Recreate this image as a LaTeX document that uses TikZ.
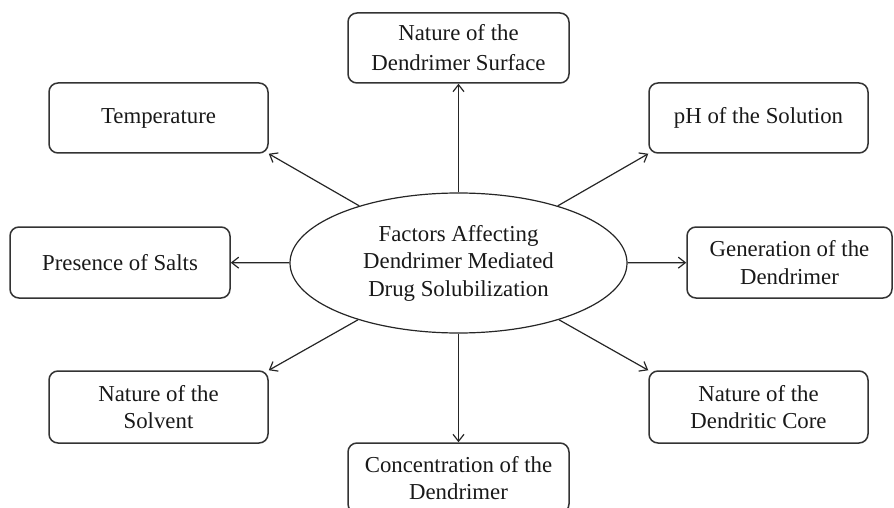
\documentclass[tikz,border=0pt]{standalone}
\usepackage{fontspec}
\setmainfont{Liberation Serif}
\usetikzlibrary{shapes.geometric,arrows.meta}

\tikzset{
  factor/.style={draw=black!80, line width=1.5pt, rounded corners=9pt, align=center,
    minimum width=220pt, minimum height=70pt, inner sep=2pt},
  hub/.style={draw=black!85, line width=1.2pt, ellipse, align=center,
    minimum width=337pt, minimum height=140pt, inner sep=0pt},
  link/.style={draw=black!85, line width=1.2pt, -{Straight Barb[length=7pt,width=11pt,line width=1.2pt]}}
}

\begin{document}
\begin{tikzpicture}[x=1pt,y=1pt,yscale=-1,font=\fontsize{22.8}{27.5}\selectfont,text=black!90]
\clip (0,0) rectangle (894,508);
\useasboundingbox (0,0) rectangle (894,508);

% centre
\node [hub] (hub) at (458.5,263) {Factors Affecting\\Dendrimer Mediated\\Drug Solubilization};

% factors
\node [factor, minimum width=221pt, font=\fontsize{22.8}{30}\selectfont] (surface) at (458.5,48) {Nature of the\\Dendrimer Surface};
\node [factor, minimum width=219pt] (temp) at (158.5,118) {Temperature};
\node [factor, minimum width=219pt] (ph) at (758.5,118) {pH of the Solution};
\node [factor, minimum width=220pt, minimum height=71pt] (salts) at (120,262.5) {Presence of Salts};
\node [factor, minimum width=205pt, minimum height=71pt] (gen) at (789.5,262.5) {Generation of the\\Dendrimer};
\node [factor, minimum width=219pt, minimum height=72pt] (solvent) at (158.5,407) {Nature of the\\Solvent};
\node [factor, minimum width=219pt, minimum height=72pt] (core) at (758.5,407) {Nature of the\\Dendritic Core};
\node [factor, minimum width=221pt] (conc) at (458.5,478) {Concentration of the\\Dendrimer};

% connectors
\draw [link] (hub) -- (surface);
\draw [link] (hub) -- (temp.south east);
\draw [link] (hub) -- (ph.south west);
\draw [link] (hub) -- (salts);
\draw [link] (hub) -- (gen);
\draw [link] (hub) -- (solvent.north east);
\draw [link] (hub) -- (core.north west);
\draw [link] (hub) -- (conc);

\end{tikzpicture}
\end{document}
